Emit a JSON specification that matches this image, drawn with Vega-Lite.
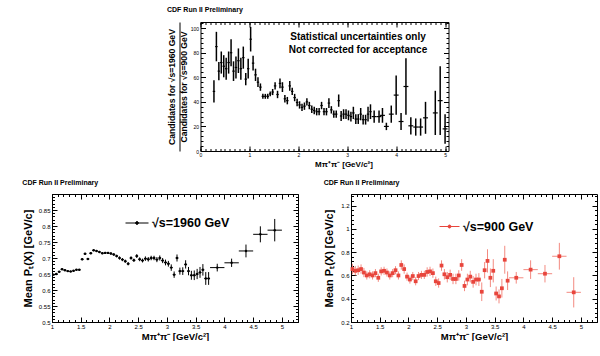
{
"$schema": "https://vega.github.io/schema/vega-lite/v6.json",
"background": "white",
"padding": {"left": 21, "top": 5, "right": 0, "bottom": 0},
"config": {
  "font": "Liberation Sans",
  "view": {"stroke": "black", "strokeWidth": 1},
  "axis": {"grid": false, "domain": false, "labelFont": "Liberation Sans", "titleFont": "Liberation Sans", "tickColor": "black", "labelColor": "black", "titleColor": "black", "titleFontWeight": "bold", "labelFlush": false, "labelOverlap": false}
},
"spacing": 9,
"center": true,
"resolve": {"scale": {"color": "independent"}, "legend": {"color": "independent"}},
"vconcat": [
{
  "width": 248, "height": 129,
  "title": {"text": "CDF Run II Preliminary", "anchor": "start", "frame": "bounds", "fontSize": 7, "fontWeight": "bold", "font": "Liberation Sans", "offset": 9},
  "data": {"values": [
    {"m":0.275,"v":48.5,"e":9,"w":0.025},{"m":0.325,"v":85,"e":12,"w":0.025},{"m":0.375,"v":65,"e":7.5,"w":0.025},{"m":0.425,"v":72,"e":9,"w":0.025},
    {"m":0.475,"v":69,"e":9,"w":0.025},{"m":0.525,"v":67,"e":9,"w":0.025},{"m":0.575,"v":72,"e":9,"w":0.025},{"m":0.625,"v":80,"e":11,"w":0.025},
    {"m":0.675,"v":65,"e":8,"w":0.025},{"m":0.725,"v":68,"e":9,"w":0.025},{"m":0.775,"v":73.5,"e":10,"w":0.025},{"m":0.825,"v":67,"e":9,"w":0.025},
    {"m":0.875,"v":76,"e":9,"w":0.025},{"m":0.925,"v":58.5,"e":5,"w":0.025},{"m":0.975,"v":67,"e":8,"w":0.025},{"m":1.025,"v":91,"e":10,"w":0.025},
    {"m":1.075,"v":71.5,"e":6,"w":0.025},{"m":1.125,"v":62,"e":5,"w":0.025},{"m":1.175,"v":56,"e":4,"w":0.025},{"m":1.225,"v":52,"e":3,"w":0.025},
    {"m":1.275,"v":44.5,"e":2,"w":0.025},{"m":1.325,"v":44.5,"e":2,"w":0.025},{"m":1.375,"v":44.5,"e":2,"w":0.025},{"m":1.425,"v":46.5,"e":2,"w":0.025},
    {"m":1.475,"v":48,"e":2.5,"w":0.025},{"m":1.525,"v":53,"e":3,"w":0.025},{"m":1.575,"v":46,"e":3,"w":0.025},{"m":1.625,"v":55,"e":4,"w":0.025},
    {"m":1.675,"v":52,"e":4,"w":0.025},{"m":1.725,"v":42.5,"e":3,"w":0.025},{"m":1.775,"v":41,"e":3,"w":0.025},{"m":1.825,"v":53,"e":4,"w":0.025},
    {"m":1.875,"v":48.5,"e":3,"w":0.025},{"m":1.925,"v":43.5,"e":3,"w":0.025},{"m":1.975,"v":39.5,"e":3,"w":0.025},{"m":2.025,"v":37.5,"e":3,"w":0.025},
    {"m":2.075,"v":35.5,"e":3,"w":0.025},{"m":2.125,"v":36.5,"e":3,"w":0.025},{"m":2.175,"v":40,"e":3,"w":0.025},{"m":2.225,"v":37,"e":3,"w":0.025},
    {"m":2.275,"v":34,"e":3,"w":0.025},{"m":2.325,"v":33,"e":3,"w":0.025},{"m":2.375,"v":32,"e":3,"w":0.025},{"m":2.425,"v":32,"e":3,"w":0.025},
    {"m":2.475,"v":37,"e":3,"w":0.025},{"m":2.525,"v":32,"e":3,"w":0.025},{"m":2.575,"v":32,"e":3,"w":0.025},{"m":2.625,"v":39,"e":4,"w":0.025},
    {"m":2.675,"v":33.5,"e":3,"w":0.025},{"m":2.725,"v":30,"e":3,"w":0.025},{"m":2.775,"v":30,"e":3,"w":0.025},{"m":2.825,"v":41,"e":5,"w":0.025},
    {"m":2.875,"v":28.5,"e":4,"w":0.025},{"m":2.925,"v":30,"e":4,"w":0.025},{"m":2.975,"v":30,"e":4,"w":0.025},{"m":3.025,"v":29,"e":4,"w":0.025},
    {"m":3.075,"v":28,"e":4,"w":0.025},{"m":3.125,"v":31,"e":5,"w":0.025},{"m":3.175,"v":26,"e":4,"w":0.025},{"m":3.225,"v":26,"e":4,"w":0.025},
    {"m":3.275,"v":30,"e":5,"w":0.025},{"m":3.325,"v":25.5,"e":4,"w":0.025},{"m":3.375,"v":25.5,"e":4,"w":0.025},{"m":3.425,"v":30,"e":6,"w":0.025},
    {"m":3.475,"v":32,"e":6,"w":0.025},{"m":3.55,"v":28,"e":5,"w":0.05},{"m":3.65,"v":28,"e":5,"w":0.05},{"m":3.72,"v":29,"e":6,"w":0.05},
    {"m":3.8,"v":20,"e":3,"w":0.05},{"m":3.9,"v":30,"e":7,"w":0.05},{"m":4.0,"v":45.5,"e":16,"w":0.05},{"m":4.1,"v":24,"e":7,"w":0.05},
    {"m":4.2,"v":52.5,"e":23,"w":0.05},{"m":4.3,"v":20.5,"e":7,"w":0.05},{"m":4.4,"v":19.5,"e":7,"w":0.05},{"m":4.5,"v":19.5,"e":7,"w":0.05},
    {"m":4.6,"v":27,"e":13,"w":0.05},{"m":4.8,"v":31,"e":18,"w":0.05},{"m":4.9,"v":41,"e":28,"w":0.05},{"m":5.0,"v":18,"e":12,"w":0.05}
  ]},
  "resolve": {"axis": {"x": "independent", "y": "independent"}},
  "layer": [
    {"mark": {"type": "errorbar", "ticks": false, "color": "black", "thickness": 1.5},
     "encoding": {
       "x": {"field": "m", "type": "quantitative", "scale": {"domain": [0, 5.07], "nice": false, "zero": false},
             "axis": {"orient": "bottom", "values": [0,1,2,3,4,5], "tickSize": -5, "labelFontSize": 5, "labelPadding": 6, "format": "~g", "title": "Mπ⁺π⁻ [GeV/c²]", "titleFontSize": 8, "titlePadding": 3, "titleX": 143}},
       "y": {"field": "v", "type": "quantitative", "scale": {"domain": [0, 105], "nice": false, "zero": false},
             "axis": {"orient": "left", "values": [0,20,40,60,80,100], "tickSize": -5, "labelFontSize": 5, "labelPadding": 7, "title": "Candidates for √s=900 GeV", "titleFontSize": 8.6, "titlePadding": 2}},
       "yError": {"field": "e"}
     }},
    {"mark": {"type": "errorbar", "ticks": false, "color": "black", "thickness": 1.2},
     "encoding": {
       "x": {"field": "m", "type": "quantitative", "axis": {"orient": "top", "values": [0,1,2,3,4,5], "tickSize": -5, "labels": false, "title": null}},
       "xError": {"field": "w"},
       "y": {"field": "v", "type": "quantitative", "axis": {"orient": "right", "values": [0,20,40,60,80,100], "tickSize": -5, "labels": false, "title": null}}
     }},
    {"mark": {"type": "point", "opacity": 0},
     "encoding": {
       "x": {"field": "m", "type": "quantitative", "axis": {"orient": "bottom", "values": [0,0.1,0.2,0.3,0.4,0.5,0.6,0.7,0.8,0.9,1,1.1,1.2,1.3,1.4,1.5,1.6,1.7,1.8,1.9,2,2.1,2.2,2.3,2.4,2.5,2.6,2.7,2.8,2.9,3,3.1,3.2,3.3,3.4,3.5,3.6,3.7,3.8,3.9,4,4.1,4.2,4.3,4.4,4.5,4.6,4.7,4.8,4.9,5], "tickSize": -2.5, "labels": false, "title": null}},
       "y": {"field": "v", "type": "quantitative", "axis": {"orient": "left", "values": [0,4,8,12,16,20,24,28,32,36,40,44,48,52,56,60,64,68,72,76,80,84,88,92,96,100,104], "tickSize": -2.5, "labels": false, "title": "Candidates for √s=1960 GeV", "titleFontSize": 8.6, "titlePadding": 24}}
     }},
    {"mark": {"type": "point", "opacity": 0},
     "encoding": {
       "x": {"field": "m", "type": "quantitative", "axis": {"orient": "top", "values": [0,0.1,0.2,0.3,0.4,0.5,0.6,0.7,0.8,0.9,1,1.1,1.2,1.3,1.4,1.5,1.6,1.7,1.8,1.9,2,2.1,2.2,2.3,2.4,2.5,2.6,2.7,2.8,2.9,3,3.1,3.2,3.3,3.4,3.5,3.6,3.7,3.8,3.9,4,4.1,4.2,4.3,4.4,4.5,4.6,4.7,4.8,4.9,5], "tickSize": -2.5, "labels": false, "title": null}},
       "y": {"field": "v", "type": "quantitative", "axis": {"orient": "right", "values": [0,4,8,12,16,20,24,28,32,36,40,44,48,52,56,60,64,68,72,76,80,84,88,92,96,100,104], "tickSize": -2.5, "labels": false, "title": null}}
     }},
    {"mark": {"type": "point", "opacity": 0},
     "encoding": {
       "x": {"field": "m", "type": "quantitative", "axis": null},
       "y": {"field": "v", "type": "quantitative", "axis": {"orient": "left", "domain": true, "domainColor": "black", "domainWidth": 1, "offset": 21, "ticks": false, "labels": false, "title": null}}
     }},
    {"data": {"values": [{}]},
     "mark": {"type": "text", "text": ["Statistical uncertainties only", "Not corrected for acceptance"], "font": "Liberation Sans", "fontWeight": "bold", "fontSize": 10, "lineHeight": 13, "align": "center", "baseline": "middle", "color": "black"},
     "encoding": {
       "x": {"datum": 3.22, "type": "quantitative", "axis": null},
       "y": {"datum": 92.5, "type": "quantitative", "axis": null}
     }}
  ]
},
{
  "spacing": 24,
  "resolve": {"scale": {"color": "independent"}, "legend": {"color": "independent"}},
  "hconcat": [
  {
    "width": 246, "height": 128,
    "title": {"text": "CDF Run II Preliminary", "anchor": "start", "frame": "bounds", "fontSize": 7, "fontWeight": "bold", "font": "Liberation Sans", "offset": 8},
    "data": {"values": [
      {"m":1.025,"v":0.648,"e":0.002,"w":0.025},{"m":1.075,"v":0.650,"e":0.002,"w":0.025},{"m":1.125,"v":0.657,"e":0.002,"w":0.025},{"m":1.175,"v":0.665,"e":0.002,"w":0.025},
      {"m":1.225,"v":0.662,"e":0.002,"w":0.025},{"m":1.275,"v":0.659,"e":0.002,"w":0.025},{"m":1.325,"v":0.658,"e":0.002,"w":0.025},{"m":1.375,"v":0.660,"e":0.002,"w":0.025},
      {"m":1.425,"v":0.663,"e":0.002,"w":0.025},{"m":1.475,"v":0.663,"e":0.002,"w":0.025},{"m":1.525,"v":0.696,"e":0.003,"w":0.025},{"m":1.575,"v":0.713,"e":0.003,"w":0.025},
      {"m":1.625,"v":0.697,"e":0.003,"w":0.025},{"m":1.675,"v":0.715,"e":0.003,"w":0.025},{"m":1.725,"v":0.724,"e":0.003,"w":0.025},{"m":1.775,"v":0.722,"e":0.003,"w":0.025},
      {"m":1.825,"v":0.719,"e":0.003,"w":0.025},{"m":1.875,"v":0.715,"e":0.003,"w":0.025},{"m":1.925,"v":0.716,"e":0.003,"w":0.025},{"m":1.975,"v":0.716,"e":0.003,"w":0.025},
      {"m":2.025,"v":0.714,"e":0.004,"w":0.025},{"m":2.075,"v":0.711,"e":0.004,"w":0.025},{"m":2.125,"v":0.706,"e":0.004,"w":0.025},{"m":2.175,"v":0.700,"e":0.005,"w":0.025},
      {"m":2.225,"v":0.695,"e":0.005,"w":0.025},{"m":2.275,"v":0.690,"e":0.005,"w":0.025},{"m":2.325,"v":0.682,"e":0.005,"w":0.025},{"m":2.375,"v":0.700,"e":0.005,"w":0.025},
      {"m":2.425,"v":0.693,"e":0.005,"w":0.025},{"m":2.475,"v":0.706,"e":0.006,"w":0.025},{"m":2.525,"v":0.696,"e":0.006,"w":0.025},{"m":2.575,"v":0.692,"e":0.006,"w":0.025},
      {"m":2.625,"v":0.698,"e":0.007,"w":0.025},{"m":2.675,"v":0.696,"e":0.007,"w":0.025},{"m":2.725,"v":0.700,"e":0.007,"w":0.025},{"m":2.775,"v":0.700,"e":0.007,"w":0.025},
      {"m":2.825,"v":0.695,"e":0.008,"w":0.025},{"m":2.875,"v":0.700,"e":0.008,"w":0.025},{"m":2.925,"v":0.692,"e":0.008,"w":0.025},{"m":2.975,"v":0.686,"e":0.009,"w":0.025},
      {"m":3.025,"v":0.682,"e":0.009,"w":0.025},{"m":3.075,"v":0.670,"e":0.01,"w":0.025},{"m":3.125,"v":0.648,"e":0.01,"w":0.025},{"m":3.175,"v":0.700,"e":0.011,"w":0.025},
      {"m":3.225,"v":0.659,"e":0.011,"w":0.025},{"m":3.275,"v":0.659,"e":0.012,"w":0.025},{"m":3.325,"v":0.680,"e":0.013,"w":0.025},{"m":3.375,"v":0.659,"e":0.013,"w":0.025},
      {"m":3.425,"v":0.646,"e":0.014,"w":0.025},{"m":3.475,"v":0.646,"e":0.015,"w":0.025},{"m":3.525,"v":0.650,"e":0.016,"w":0.025},{"m":3.575,"v":0.655,"e":0.017,"w":0.025},
      {"m":3.625,"v":0.663,"e":0.018,"w":0.025},{"m":3.675,"v":0.636,"e":0.02,"w":0.025},{"m":3.725,"v":0.636,"e":0.02,"w":0.025},
      {"m":3.875,"v":0.670,"e":0.012,"w":0.125},{"m":4.125,"v":0.685,"e":0.013,"w":0.125},{"m":4.375,"v":0.722,"e":0.02,"w":0.125},
      {"m":4.625,"v":0.774,"e":0.025,"w":0.125},{"m":4.875,"v":0.787,"e":0.035,"w":0.125}
    ]},
    "resolve": {"axis": {"x": "independent", "y": "independent"}},
    "layer": [
      {"mark": {"type": "errorbar", "ticks": false, "color": "black", "thickness": 1},
       "encoding": {
         "x": {"field": "m", "type": "quantitative", "scale": {"domain": [1, 5.28], "nice": false, "zero": false},
               "axis": {"orient": "bottom", "values": [1,1.5,2,2.5,3,3.5,4,4.5,5], "tickSize": -5, "labelFontSize": 6, "labelPadding": 6, "format": "~g", "title": "Mπ⁺π⁻ [GeV/c²]", "titleFontSize": 9.5, "titlePadding": 2}},
         "y": {"field": "v", "type": "quantitative", "scale": {"domain": [0.5, 0.9], "nice": false, "zero": false},
               "axis": {"orient": "left", "values": [0.5,0.55,0.6,0.65,0.7,0.75,0.8,0.85], "tickSize": -5, "labelFontSize": 6, "labelPadding": 7, "format": "~g", "title": "Mean Pₜ(X) [GeV/c]", "titleFontSize": 11, "titlePadding": 5}},
         "yError": {"field": "e"}
       }},
      {"mark": {"type": "errorbar", "ticks": false, "color": "black", "thickness": 1},
       "encoding": {
         "x": {"field": "m", "type": "quantitative", "axis": {"orient": "top", "values": [1,1.5,2,2.5,3,3.5,4,4.5,5], "tickSize": -5, "labels": false, "title": null}},
         "xError": {"field": "w"},
         "y": {"field": "v", "type": "quantitative", "axis": {"orient": "right", "values": [0.5,0.55,0.6,0.65,0.7,0.75,0.8,0.85], "tickSize": -5, "labels": false, "title": null}}
       }},
      {"mark": {"type": "point", "filled": true, "size": 6, "opacity": 1},
       "encoding": {
         "x": {"field": "m", "type": "quantitative", "axis": {"orient": "bottom", "values": [1,1.1,1.2,1.3,1.4,1.5,1.6,1.7,1.8,1.9,2,2.1,2.2,2.3,2.4,2.5,2.6,2.7,2.8,2.9,3,3.1,3.2,3.3,3.4,3.5,3.6,3.7,3.8,3.9,4,4.1,4.2,4.3,4.4,4.5,4.6,4.7,4.8,4.9,5,5.1,5.2], "tickSize": -2.5, "labels": false, "title": null}},
         "y": {"field": "v", "type": "quantitative", "axis": {"orient": "left", "values": [0.5,0.51,0.52,0.53,0.54,0.55,0.56,0.57,0.58,0.59,0.6,0.61,0.62,0.63,0.64,0.65,0.66,0.67,0.68,0.69,0.7,0.71,0.72,0.73,0.74,0.75,0.76,0.77,0.78,0.79,0.8,0.81,0.82,0.83,0.84,0.85,0.86,0.87,0.88,0.89,0.9], "tickSize": -2.5, "labels": false, "title": null}},
         "color": {"datum": "√s=1960 GeV", "type": "nominal", "scale": {"range": ["black"]},
                   "legend": {"orient": "none", "legendX": 73, "legendY": 17, "title": null, "labelFontSize": 12.5, "labelFontWeight": "bold", "labelFont": "Liberation Sans", "labelColor": "black", "labelOffset": 3, "symbolType": "M-1,0H1M-0.12,0A0.12,0.12,0,1,0,0.12,0A0.12,0.12,0,1,0,-0.12,0Z", "symbolSize": 529, "symbolStrokeWidth": 1, "symbolStrokeColor": "black", "symbolFillColor": "black"}}
       }},
      {"mark": {"type": "point", "opacity": 0},
       "encoding": {
         "x": {"field": "m", "type": "quantitative", "axis": {"orient": "top", "values": [1,1.1,1.2,1.3,1.4,1.5,1.6,1.7,1.8,1.9,2,2.1,2.2,2.3,2.4,2.5,2.6,2.7,2.8,2.9,3,3.1,3.2,3.3,3.4,3.5,3.6,3.7,3.8,3.9,4,4.1,4.2,4.3,4.4,4.5,4.6,4.7,4.8,4.9,5,5.1,5.2], "tickSize": -2.5, "labels": false, "title": null}},
         "y": {"field": "v", "type": "quantitative", "axis": {"orient": "right", "values": [0.5,0.51,0.52,0.53,0.54,0.55,0.56,0.57,0.58,0.59,0.6,0.61,0.62,0.63,0.64,0.65,0.66,0.67,0.68,0.69,0.7,0.71,0.72,0.73,0.74,0.75,0.76,0.77,0.78,0.79,0.8,0.81,0.82,0.83,0.84,0.85,0.86,0.87,0.88,0.89,0.9], "tickSize": -2.5, "labels": false, "title": null}}
       }}
    ]
  },
  {
    "width": 246, "height": 128,
    "title": {"text": "CDF Run II Preliminary", "anchor": "start", "frame": "bounds", "fontSize": 7, "fontWeight": "bold", "font": "Liberation Sans", "offset": 8},
    "data": {"values": [
      {"m":1.025,"v":0.655,"e":0.045,"w":0.025},{"m":1.075,"v":0.640,"e":0.04,"w":0.025},{"m":1.125,"v":0.645,"e":0.04,"w":0.025},{"m":1.175,"v":0.655,"e":0.04,"w":0.025},
      {"m":1.225,"v":0.625,"e":0.04,"w":0.025},{"m":1.275,"v":0.600,"e":0.035,"w":0.025},{"m":1.325,"v":0.610,"e":0.035,"w":0.025},{"m":1.375,"v":0.600,"e":0.035,"w":0.025},
      {"m":1.425,"v":0.620,"e":0.035,"w":0.025},{"m":1.475,"v":0.580,"e":0.035,"w":0.025},{"m":1.525,"v":0.635,"e":0.035,"w":0.025},{"m":1.575,"v":0.640,"e":0.035,"w":0.025},
      {"m":1.625,"v":0.625,"e":0.035,"w":0.025},{"m":1.675,"v":0.600,"e":0.035,"w":0.025},{"m":1.725,"v":0.620,"e":0.035,"w":0.025},{"m":1.775,"v":0.645,"e":0.035,"w":0.025},
      {"m":1.825,"v":0.600,"e":0.035,"w":0.025},{"m":1.875,"v":0.690,"e":0.04,"w":0.025},{"m":1.925,"v":0.655,"e":0.04,"w":0.025},{"m":1.975,"v":0.590,"e":0.035,"w":0.025},
      {"m":2.025,"v":0.565,"e":0.035,"w":0.025},{"m":2.075,"v":0.595,"e":0.035,"w":0.025},{"m":2.125,"v":0.550,"e":0.035,"w":0.025},{"m":2.175,"v":0.595,"e":0.035,"w":0.025},
      {"m":2.225,"v":0.605,"e":0.035,"w":0.025},{"m":2.275,"v":0.605,"e":0.035,"w":0.025},{"m":2.325,"v":0.630,"e":0.04,"w":0.025},{"m":2.375,"v":0.635,"e":0.04,"w":0.025},
      {"m":2.425,"v":0.620,"e":0.04,"w":0.025},{"m":2.475,"v":0.550,"e":0.04,"w":0.025},{"m":2.525,"v":0.535,"e":0.04,"w":0.025},{"m":2.575,"v":0.685,"e":0.045,"w":0.025},
      {"m":2.625,"v":0.610,"e":0.045,"w":0.025},{"m":2.675,"v":0.585,"e":0.045,"w":0.025},{"m":2.725,"v":0.605,"e":0.045,"w":0.025},{"m":2.775,"v":0.570,"e":0.045,"w":0.025},
      {"m":2.825,"v":0.570,"e":0.045,"w":0.025},{"m":2.875,"v":0.600,"e":0.045,"w":0.025},{"m":2.925,"v":0.690,"e":0.05,"w":0.025},{"m":2.975,"v":0.510,"e":0.045,"w":0.025},
      {"m":3.025,"v":0.565,"e":0.05,"w":0.025},{"m":3.075,"v":0.590,"e":0.05,"w":0.025},{"m":3.125,"v":0.545,"e":0.05,"w":0.025},{"m":3.175,"v":0.565,"e":0.05,"w":0.025},
      {"m":3.225,"v":0.565,"e":0.055,"w":0.025},{"m":3.275,"v":0.460,"e":0.08,"w":0.025},{"m":3.325,"v":0.645,"e":0.07,"w":0.025},{"m":3.375,"v":0.725,"e":0.1,"w":0.025},
      {"m":3.425,"v":0.580,"e":0.08,"w":0.025},{"m":3.475,"v":0.640,"e":0.1,"w":0.025},{"m":3.525,"v":0.445,"e":0.06,"w":0.025},{"m":3.575,"v":0.420,"e":0.06,"w":0.025},
      {"m":3.625,"v":0.490,"e":0.08,"w":0.025},{"m":3.675,"v":0.735,"e":0.12,"w":0.025},{"m":3.725,"v":0.555,"e":0.08,"w":0.025},
      {"m":3.875,"v":0.580,"e":0.05,"w":0.125},{"m":4.125,"v":0.650,"e":0.08,"w":0.125},{"m":4.375,"v":0.615,"e":0.075,"w":0.125},
      {"m":4.625,"v":0.765,"e":0.115,"w":0.125},{"m":4.875,"v":0.455,"e":0.13,"w":0.125}
    ]},
    "resolve": {"axis": {"x": "independent", "y": "independent"}},
    "layer": [
      {"mark": {"type": "errorbar", "ticks": false, "color": "#f38a80", "thickness": 1},
       "encoding": {
         "x": {"field": "m", "type": "quantitative", "scale": {"domain": [1, 5.28], "nice": false, "zero": false},
               "axis": {"orient": "bottom", "values": [1,1.5,2,2.5,3,3.5,4,4.5,5], "tickSize": -5, "labelFontSize": 6, "labelPadding": 6, "format": "~g", "title": "Mπ⁺π⁻ [GeV/c²]", "titleFontSize": 9.5, "titlePadding": 2}},
         "y": {"field": "v", "type": "quantitative", "scale": {"domain": [0.2, 1.3], "nice": false, "zero": false},
               "axis": {"orient": "left", "values": [0.2,0.4,0.6,0.8,1,1.2], "tickSize": -5, "labelFontSize": 6, "labelPadding": 7, "format": "~g", "title": "Mean Pₜ(X) [GeV/c]", "titleFontSize": 11, "titlePadding": 6}},
         "yError": {"field": "e"}
       }},
      {"mark": {"type": "errorbar", "ticks": false, "color": "#f38a80", "thickness": 1},
       "encoding": {
         "x": {"field": "m", "type": "quantitative", "axis": {"orient": "top", "values": [1,1.5,2,2.5,3,3.5,4,4.5,5], "tickSize": -5, "labels": false, "title": null}},
         "xError": {"field": "w"},
         "y": {"field": "v", "type": "quantitative", "axis": {"orient": "right", "values": [0.2,0.4,0.6,0.8,1,1.2], "tickSize": -5, "labels": false, "title": null}}
       }},
      {"mark": {"type": "point", "filled": true, "size": 14, "shape": "square", "opacity": 1},
       "encoding": {
         "x": {"field": "m", "type": "quantitative", "axis": {"orient": "bottom", "values": [1,1.1,1.2,1.3,1.4,1.5,1.6,1.7,1.8,1.9,2,2.1,2.2,2.3,2.4,2.5,2.6,2.7,2.8,2.9,3,3.1,3.2,3.3,3.4,3.5,3.6,3.7,3.8,3.9,4,4.1,4.2,4.3,4.4,4.5,4.6,4.7,4.8,4.9,5,5.1,5.2], "tickSize": -2.5, "labels": false, "title": null}},
         "y": {"field": "v", "type": "quantitative", "axis": {"orient": "left", "values": [0.2,0.24,0.28,0.32,0.36,0.4,0.44,0.48,0.52,0.56,0.6,0.64,0.68,0.72,0.76,0.8,0.84,0.88,0.92,0.96,1,1.04,1.08,1.12,1.16,1.2,1.24,1.28], "tickSize": -2.5, "labels": false, "title": null}},
         "color": {"datum": "√s=900 GeV", "type": "nominal", "scale": {"range": ["#e8453c"]},
                   "legend": {"orient": "none", "legendX": 88, "legendY": 22, "title": null, "labelFontSize": 12.5, "labelFontWeight": "bold", "labelFont": "Liberation Sans", "labelColor": "black", "labelOffset": 3, "symbolType": "M-1,0H1M-0.15,0A0.15,0.15,0,1,0,0.15,0A0.15,0.15,0,1,0,-0.15,0Z", "symbolSize": 400, "symbolStrokeWidth": 1, "symbolStrokeColor": "#e8453c", "symbolFillColor": "#f8c0bb"}}
       }},
      {"mark": {"type": "point", "opacity": 0},
       "encoding": {
         "x": {"field": "m", "type": "quantitative", "axis": {"orient": "top", "values": [1,1.1,1.2,1.3,1.4,1.5,1.6,1.7,1.8,1.9,2,2.1,2.2,2.3,2.4,2.5,2.6,2.7,2.8,2.9,3,3.1,3.2,3.3,3.4,3.5,3.6,3.7,3.8,3.9,4,4.1,4.2,4.3,4.4,4.5,4.6,4.7,4.8,4.9,5,5.1,5.2], "tickSize": -2.5, "labels": false, "title": null}},
         "y": {"field": "v", "type": "quantitative", "axis": {"orient": "right", "values": [0.2,0.24,0.28,0.32,0.36,0.4,0.44,0.48,0.52,0.56,0.6,0.64,0.68,0.72,0.76,0.8,0.84,0.88,0.92,0.96,1,1.04,1.08,1.12,1.16,1.2,1.24,1.28], "tickSize": -2.5, "labels": false, "title": null}}
       }}
    ]
  }
  ]
}
]
}
